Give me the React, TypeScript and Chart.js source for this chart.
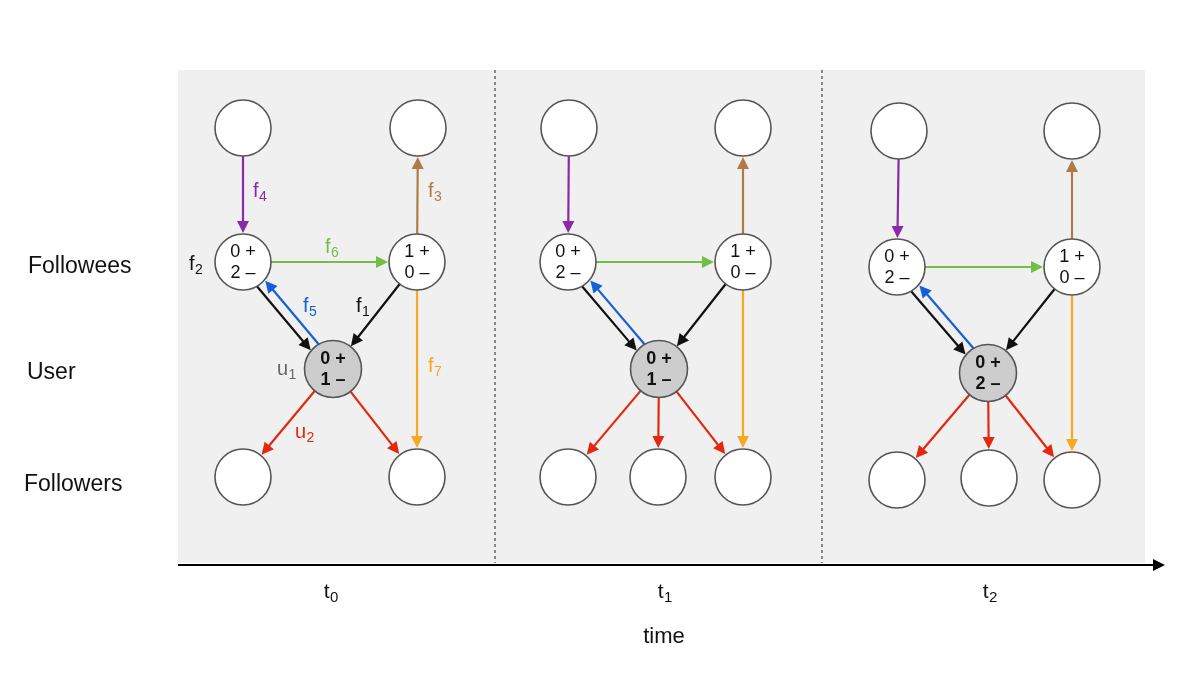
import { useEffect, useRef } from "react";
import { Chart, registerables } from "chart.js";

Chart.register(...registerables);

// ---------- data ----------
const rowLabels = ["Followees", "User", "Followers"];
const rowLabelX = [28, 27, 24];
const rowLabelY = [273, 379, 491];

const timeSubs = ["0", "1", "2"];
const timeLabelX = [331, 665, 990];
const timeLabelY = 598;
const axisTitle = "time";
const axisTitleX = 664;
const axisTitleY = 643;

const dividerX = [495, 822];
const panelBox = { left: 178, right: 1145, top: 70, bottom: 563 };
const axisLine = { y: 565, x0: 178, x1: 1165 };

// plain (empty) nodes: top followees-of-followees and followers
const plainNodes = [
  { id: "tl0", x: 243, y: 128 },
  { id: "tr0", x: 418, y: 128 },
  { id: "a0", x: 243, y: 477 },
  { id: "c0", x: 417, y: 477 },
  { id: "tl1", x: 569, y: 128 },
  { id: "tr1", x: 743, y: 128 },
  { id: "a1", x: 568, y: 477 },
  { id: "b1", x: 658, y: 477 },
  { id: "c1", x: 743, y: 477 },
  { id: "tl2", x: 899, y: 131 },
  { id: "tr2", x: 1072, y: 131 },
  { id: "a2", x: 897, y: 480 },
  { id: "b2", x: 989, y: 478 },
  { id: "c2", x: 1072, y: 480 },
];

// followee nodes with their +/- counts
const followeeNodes = [
  { id: "fl0", x: 243, y: 262, pos: 0, neg: 2 },
  { id: "fr0", x: 417, y: 262, pos: 1, neg: 0 },
  { id: "fl1", x: 568, y: 262, pos: 0, neg: 2 },
  { id: "fr1", x: 743, y: 262, pos: 1, neg: 0 },
  { id: "fl2", x: 897, y: 267, pos: 0, neg: 2 },
  { id: "fr2", x: 1072, y: 267, pos: 1, neg: 0 },
];

// user nodes with their +/- counts
const userNodes = [
  { id: "u0", x: 333, y: 369, pos: 0, neg: 1 },
  { id: "u1", x: 659, y: 369, pos: 0, neg: 1 },
  { id: "u2", x: 988, y: 373, pos: 0, neg: 2 },
];

// edges: [from, to, kind]
const edges: [string, string, string][] = [
  ["tl0", "fl0", "f4"], ["fr0", "tr0", "f3"], ["fl0", "fr0", "f6"],
  ["fl0", "u0", "f2"], ["u0", "fl0", "f5"], ["fr0", "u0", "f1"],
  ["fr0", "c0", "f7"], ["u0", "a0", "u2"], ["u0", "c0", "u2"],

  ["tl1", "fl1", "f4"], ["fr1", "tr1", "f3"], ["fl1", "fr1", "f6"],
  ["fl1", "u1", "f2"], ["u1", "fl1", "f5"], ["fr1", "u1", "f1"],
  ["fr1", "c1", "f7"], ["u1", "a1", "u2"], ["u1", "b1", "u2"], ["u1", "c1", "u2"],

  ["tl2", "fl2", "f4"], ["fr2", "tr2", "f3"], ["fl2", "fr2", "f6"],
  ["fl2", "u2", "f2"], ["u2", "fl2", "f5"], ["fr2", "u2", "f1"],
  ["fr2", "c2", "f7"], ["u2", "a2", "u2"], ["u2", "b2", "u2"], ["u2", "c2", "u2"],
];

// edge annotations in the first panel: [base, subscript, x, y, kind]
const edgeLabels: [string, string, number, number, string][] = [
  ["f", "4", 253, 197, "f4"],
  ["f", "3", 428, 197, "f3"],
  ["f", "6", 325, 253, "f6"],
  ["f", "2", 189, 270, "f2"],
  ["f", "5", 303, 312, "f5"],
  ["f", "1", 356, 312, "f1"],
  ["u", "1", 277, 375, "u1"],
  ["f", "7", 428, 372, "f7"],
  ["u", "2", 295, 438, "u2"],
];

// ---------- styles ----------
const FONT = '"Liberation Sans", Arial, Helvetica, sans-serif';
const kindColor: Record<string, string> = {
  f4: "#8a2aa6",
  f3: "#b07c45",
  f6: "#73be46",
  f2: "#111111",
  f5: "#1660d6",
  f1: "#111111",
  f7: "#f6a821",
  u2: "#e2290f",
  u1: "#666666",
};
const edgeOffset: Record<string, number> = { f2: -5, f5: -5 };
const NODE_R = 28;

export default function App() {
  const ref = useRef<HTMLCanvasElement | null>(null);

  useEffect(() => {
    document.body.style.margin = "0";
    const canvas = ref.current;
    if (!canvas) return;

    const allNodes: Record<string, { x: number; y: number }> = {};
    [...plainNodes, ...followeeNodes, ...userNodes].forEach((n) => (allNodes[n.id] = { x: n.x, y: n.y }));

    const diagramPlugin = {
      id: "diagram",
      beforeDatasetsDraw(chart: any) {
        const ctx: CanvasRenderingContext2D = chart.ctx;
        const xs = chart.scales.x;
        const ys = chart.scales.y;
        const px = (v: number) => xs.getPixelForValue(v);
        const py = (v: number) => ys.getPixelForValue(v);
        ctx.save();
        // panel background
        ctx.fillStyle = "#f0f0f0";
        ctx.fillRect(px(panelBox.left), py(panelBox.top), px(panelBox.right) - px(panelBox.left), py(panelBox.bottom) - py(panelBox.top));
        // dividers
        ctx.strokeStyle = "#666666";
        ctx.lineWidth = 1.5;
        ctx.setLineDash([3, 3]);
        dividerX.forEach((dx) => {
          ctx.beginPath();
          ctx.moveTo(px(dx), py(panelBox.top));
          ctx.lineTo(px(dx), py(panelBox.bottom));
          ctx.stroke();
        });
        ctx.setLineDash([]);
        // time axis
        const ay = py(axisLine.y);
        ctx.strokeStyle = "#000";
        ctx.fillStyle = "#000";
        ctx.lineWidth = 2;
        ctx.beginPath();
        ctx.moveTo(px(axisLine.x0), ay);
        ctx.lineTo(px(axisLine.x1) - 11, ay);
        ctx.stroke();
        ctx.beginPath();
        ctx.moveTo(px(axisLine.x1), ay);
        ctx.lineTo(px(axisLine.x1) - 12, ay - 6);
        ctx.lineTo(px(axisLine.x1) - 12, ay + 6);
        ctx.closePath();
        ctx.fill();

        // edges
        edges.forEach(([from, to, kind]) => {
          const A = allNodes[from];
          const B = allNodes[to];
          const ax = px(A.x), ayy = py(A.y), bx = px(B.x), by = py(B.y);
          const dx = bx - ax, dy = by - ayy;
          const len = Math.hypot(dx, dy);
          const ux = dx / len, uy = dy / len;
          const pxp = uy, pyp = -ux;
          const off = edgeOffset[kind] || 0;
          const r0 = NODE_R;
          const r1 = NODE_R + 1;
          const s0 = Math.sqrt(r0 * r0 - off * off);
          const s1 = Math.sqrt(r1 * r1 - off * off);
          const x1 = ax + ux * s0 + pxp * off;
          const y1 = ayy + uy * s0 + pyp * off;
          const x2 = bx - ux * s1 + pxp * off;
          const y2 = by - uy * s1 + pyp * off;
          const col = kindColor[kind];
          const L = 12, W = 6;
          const hx = x2 - ux * L, hy = y2 - uy * L;
          ctx.strokeStyle = col;
          ctx.fillStyle = col;
          ctx.lineWidth = 2.2;
          ctx.beginPath();
          ctx.moveTo(x1, y1);
          ctx.lineTo(hx + ux * 1, hy + uy * 1);
          ctx.stroke();
          ctx.beginPath();
          ctx.moveTo(x2, y2);
          ctx.lineTo(hx + pxp * W, hy + pyp * W);
          ctx.lineTo(hx - pxp * W, hy - pyp * W);
          ctx.closePath();
          ctx.fill();
        });
        ctx.restore();
      },
      afterDatasetsDraw(chart: any) {
        const ctx: CanvasRenderingContext2D = chart.ctx;
        const xs = chart.scales.x;
        const ys = chart.scales.y;
        const px = (v: number) => xs.getPixelForValue(v);
        const py = (v: number) => ys.getPixelForValue(v);
        ctx.save();
        ctx.textAlign = "center";
        ctx.textBaseline = "middle";
        ctx.fillStyle = "#111";
        // counts in followee nodes
        ctx.font = `18px ${FONT}`;
        followeeNodes.forEach((n) => {
          ctx.fillText(`${n.pos} +`, px(n.x), py(n.y) - 9.5);
          ctx.fillText(`${n.neg} \u2013`, px(n.x), py(n.y) + 11);
        });
        ctx.font = `bold 18px ${FONT}`;
        userNodes.forEach((n) => {
          ctx.fillText(`${n.pos} +`, px(n.x), py(n.y) - 9.5);
          ctx.fillText(`${n.neg} \u2013`, px(n.x), py(n.y) + 11.5);
        });

        // subscript labels
        const drawSub = (base: string, sub: string, x: number, y: number, color: string, size: number, subSize: number, centered: boolean) => {
          ctx.textBaseline = "alphabetic";
          ctx.textAlign = "left";
          ctx.font = `${size}px ${FONT}`;
          const w = ctx.measureText(base).width;
          ctx.font = `${subSize}px ${FONT}`;
          const ws = ctx.measureText(sub).width;
          const left = centered ? x - (w + ws + 0.5) / 2 : x;
          ctx.fillStyle = color;
          ctx.font = `${size}px ${FONT}`;
          ctx.fillText(base, left, y);
          ctx.font = `${subSize}px ${FONT}`;
          ctx.fillText(sub, left + w + 0.5, y + 4);
        };
        edgeLabels.forEach(([b, s, x, y, kind]) => drawSub(b, s, px(x), py(y), kindColor[kind], 20, 14, false));

        // row labels
        ctx.fillStyle = "#111";
        ctx.textAlign = "left";
        ctx.textBaseline = "alphabetic";
        ctx.font = `23px ${FONT}`;
        rowLabels.forEach((t, i) => ctx.fillText(t, px(rowLabelX[i]), py(rowLabelY[i])));

        // time labels
        timeSubs.forEach((s, i) => drawSub("t", s, px(timeLabelX[i]), py(timeLabelY), "#111", 21, 15, true));
        ctx.fillStyle = "#111";
        ctx.textAlign = "center";
        ctx.font = `22px ${FONT}`;
        ctx.fillText(axisTitle, px(axisTitleX), py(axisTitleY));
        ctx.restore();
      },
    };

    const chart = new Chart(canvas, {
      type: "scatter",
      data: {
        datasets: [
          {
            label: "nodes",
            data: [...plainNodes, ...followeeNodes].map((n) => ({ x: n.x, y: n.y })),
            pointRadius: NODE_R,
            pointHoverRadius: NODE_R,
            backgroundColor: "#ffffff",
            borderColor: "#555555",
            borderWidth: 1.6,
            pointHoverBorderWidth: 1.6,
          },
          {
            label: "users",
            data: userNodes.map((n) => ({ x: n.x, y: n.y })),
            pointRadius: NODE_R + 0.5,
            pointHoverRadius: NODE_R + 0.5,
            backgroundColor: "#cdcdcd",
            borderColor: "#555555",
            borderWidth: 1.6,
            pointHoverBorderWidth: 1.6,
          },
        ],
      },
      options: {
        responsive: false,
        animation: false,
        events: [],
        layout: { padding: 0, autoPadding: false },
        plugins: { legend: { display: false }, tooltip: { enabled: false } },
        scales: {
          x: { type: "linear", min: 0, max: 1200, display: false },
          y: { type: "linear", min: 0, max: 686, reverse: true, display: false },
        },
      },
      plugins: [diagramPlugin],
    });
    return () => chart.destroy();
  }, []);

  return <canvas ref={ref} width={1200} height={686} style={{ display: "block" }} />;
}
